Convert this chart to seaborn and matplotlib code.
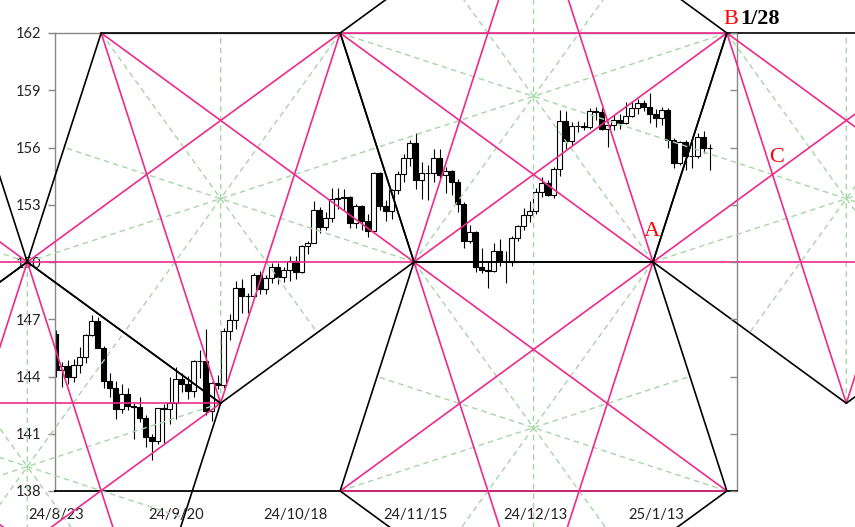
import numpy as np
import matplotlib
matplotlib.use("Agg")
import matplotlib.pyplot as plt
import seaborn as sns

# ローソク足データ (USD/JPY 日足, 2024/8/23 - 2025/1/24)
opens = [146.25, 144.35, 144.55, 143.95, 144.60, 145.00, 146.15, 146.90, 145.50, 143.75,
         143.40, 142.30, 143.10, 142.45, 142.40, 141.85, 140.85, 140.60, 142.35, 142.30,
         142.60, 143.85, 143.60, 143.25, 144.80, 144.80, 142.20, 143.65, 143.55, 146.40,
         146.95, 148.65, 148.20, 148.20, 149.30, 148.60, 149.15, 149.75, 149.20, 149.60,
         150.05, 149.50, 150.85, 151.00, 152.70, 151.85, 152.30, 153.30, 153.35, 153.40,
         152.05, 152.95, 152.15, 151.60, 154.65, 152.95, 152.65, 153.75, 154.60, 155.45,
         156.25, 154.30, 154.65, 154.65, 155.45, 154.55, 154.75, 154.20, 153.05, 151.10,
         151.55, 149.75, 149.60, 149.55, 150.60, 150.05, 150.00, 151.25, 151.90, 152.45,
         152.65, 153.65, 154.15, 153.50, 154.85, 157.40, 156.35, 157.15, 157.15, 157.10,
         157.90, 157.85, 156.95, 157.20, 157.45, 157.30, 157.65, 158.05, 158.35, 158.10,
         157.75, 157.55, 157.95, 156.40, 155.20, 156.30, 155.55, 155.55, 156.55, 156.00]
highs = [146.45, 144.75, 144.85, 144.90, 145.55, 146.25, 147.20, 147.10, 145.60, 144.20,
         143.75, 143.60, 143.40, 142.60, 142.90, 142.00, 141.00, 142.30, 142.55, 143.95,
         144.50, 144.20, 144.05, 144.85, 145.40, 146.50, 143.70, 144.10, 146.55, 147.25,
         149.00, 149.10, 148.35, 149.40, 149.55, 149.30, 149.95, 149.95, 149.75, 150.30,
         150.30, 150.90, 151.10, 153.20, 152.90, 152.60, 153.90, 153.90, 153.85, 153.45,
         153.05, 153.00, 152.50, 154.70, 154.70, 153.25, 153.85, 154.75, 155.65, 156.40,
         156.75, 155.25, 155.10, 155.90, 155.90, 155.00, 154.80, 154.35, 153.15, 151.95,
         151.60, 150.75, 150.00, 151.00, 151.20, 150.60, 151.35, 151.95, 152.85, 153.20,
         153.90, 154.45, 154.30, 155.00, 157.95, 157.90, 157.35, 157.40, 157.35, 158.05,
         158.10, 158.05, 157.40, 157.70, 157.75, 158.40, 158.40, 158.55, 158.50, 158.85,
         158.00, 158.10, 158.05, 156.50, 156.35, 156.40, 156.30, 156.75, 156.85, 156.20]
lows = [144.00, 143.45, 143.60, 143.70, 144.20, 144.70, 146.10, 145.50, 143.40, 142.90,
        141.75, 142.10, 142.25, 140.70, 141.60, 140.30, 139.60, 140.45, 140.50, 141.50,
        141.75, 143.20, 142.80, 142.95, 143.90, 142.00, 141.65, 143.35, 143.40, 145.90,
        146.50, 147.35, 147.35, 148.10, 148.30, 148.30, 148.90, 148.85, 148.95, 149.00,
        149.10, 149.40, 150.40, 151.00, 151.50, 151.70, 152.10, 152.80, 152.75, 151.80,
        151.80, 151.70, 151.30, 151.60, 152.70, 152.15, 152.25, 153.55, 154.20, 155.05,
        153.85, 153.30, 153.25, 154.20, 154.30, 153.60, 153.50, 152.60, 150.75, 151.00,
        149.45, 149.40, 148.65, 149.50, 149.80, 148.90, 149.80, 151.10, 151.70, 152.10,
        152.50, 153.40, 153.45, 153.35, 154.50, 155.90, 156.15, 156.80, 156.90, 156.95,
        157.45, 156.90, 156.05, 156.90, 156.95, 157.25, 157.60, 157.75, 157.90, 157.30,
        157.10, 157.20, 155.95, 154.95, 155.10, 154.80, 154.95, 155.45, 155.70, 154.80]
closes = [144.35, 144.55, 143.95, 144.60, 145.00, 146.15, 146.90, 145.50, 143.75, 143.40,
          142.30, 143.10, 142.45, 142.40, 141.85, 140.85, 140.60, 142.35, 142.30, 142.60,
          143.85, 143.60, 143.25, 144.80, 144.80, 142.20, 143.65, 143.55, 146.40, 146.95,
          148.65, 148.20, 148.20, 149.30, 148.60, 149.15, 149.75, 149.20, 149.60, 150.05,
          149.50, 150.85, 151.00, 152.70, 151.85, 152.30, 153.30, 153.35, 153.40, 152.05,
          152.95, 152.15, 151.60, 154.65, 152.95, 152.65, 153.75, 154.60, 155.45, 156.25,
          154.30, 154.65, 154.65, 155.45, 154.55, 154.75, 154.20, 153.05, 151.10, 151.55,
          149.75, 149.60, 149.55, 150.60, 150.05, 150.00, 151.25, 151.90, 152.45, 152.65,
          153.65, 154.15, 153.50, 154.85, 157.40, 156.35, 157.15, 157.15, 157.10, 157.90,
          157.85, 156.95, 157.20, 157.45, 157.30, 157.65, 158.05, 158.35, 158.10, 157.75,
          157.55, 157.95, 156.40, 155.20, 156.30, 155.55, 155.55, 156.55, 156.00, 156.00]

# 目盛り
x_tick_pos = [0, 20, 40, 60, 80, 100]
x_tick_labels = ['24/8/23', '24/9/20', '24/10/18', '24/11/15', '24/12/13', '25/1/13']
y_ticks = [138, 141, 144, 147, 150, 153, 156, 159, 162]

# 五角形の頂点 (x=営業日, y=価格)
pent_L = [(-17.06, 162), (-4.75, 150), (-36.97, 142.6), (-69.20, 150), (-56.89, 162)]
pent_0 = [(-4.75, 150), (27.47, 142.6), (15.16, 130.6), (-24.67, 130.6), (-36.97, 142.6)]
pent_1 = [(7.56, 162), (47.39, 162), (59.70, 150), (27.47, 142.6), (-4.75, 150)]
pent_2 = [(59.70, 150), (99.53, 150), (111.84, 162), (79.62, 169.4), (47.39, 162)]
pent_3 = [(59.70, 150), (99.53, 150), (111.84, 138), (79.62, 130.6), (47.39, 138)]
pent_5 = [(111.84, 162), (151.67, 162), (163.98, 150), (131.75, 142.6), (99.53, 150)]
pentagons = [pent_L, pent_0, pent_1, pent_2, pent_3, pent_5]

pink = '#EE2A8B'
green = '#A6D6A6'

sns.set_theme(style='white')
plt.rcParams['font.family'] = ['Lato', 'DejaVu Sans']

fig = plt.figure(figsize=(8.55, 5.27), dpi=100)
ax = fig.add_axes([55 / 855, 36 / 527, 682 / 855, 458 / 527])

# ローソク足
x = np.arange(len(opens))
o, h, l, c = map(np.array, (opens, highs, lows, closes))
up = c >= o
ax.vlines(x, l, h, color='black', linewidth=0.8, zorder=2)
ax.bar(x[up], (c - o)[up], bottom=o[up], width=0.8, color='white',
       edgecolor='black', linewidth=0.8, zorder=2.5)
ax.bar(x[~up], (o - c)[~up], bottom=c[~up], width=0.8, color='black',
       edgecolor='black', linewidth=0.8, zorder=2.5)

# 五角形: 中線(緑点線), 対角線(ピンク), 辺(黒)
for p in pentagons:
    v = np.array(p)
    for k in range(5):
        m = (v[(k + 2) % 5] + v[(k + 3) % 5]) / 2
        ax.plot([v[k, 0], m[0]], [v[k, 1], m[1]], color=green, lw=1.0,
                dashes=(4, 3), clip_on=False, zorder=3)
for p in pentagons:
    v = np.array(p)
    for k in range(5):
        w = v[(k + 2) % 5]
        ax.plot([v[k, 0], w[0]], [v[k, 1], w[1]], color=pink, lw=1.2,
                clip_on=False, zorder=4, solid_capstyle='round')
for p in pentagons:
    v = np.array(p)
    for k in range(5):
        w = v[(k + 1) % 5]
        ax.plot([v[k, 0], w[0]], [v[k, 1], w[1]], color='black', lw=1.2,
                clip_on=False, zorder=5, solid_capstyle='round')

# ラベル
serif = ['Liberation Serif', 'DejaVu Serif']
ax.text(99.28, 151.6, 'A', color='red', fontsize=16, family=serif,
        ha='center', va='center', zorder=6)
ax.text(112.53, 162.2, 'B', color='red', fontsize=16, family=serif,
        ha='center', va='bottom', zorder=6)
ax.text(114.0, 162.2, '1/28', color='black', fontsize=16, family=serif,
        fontweight='bold', ha='left', va='bottom', zorder=6)
ax.text(120.1, 155.5, 'C', color='red', fontsize=16, family=serif,
        ha='center', va='center', zorder=6)

ax.set_xlim(-0.133, 113.53)
ax.set_ylim(138, 162)
ax.set_xticks(x_tick_pos)
ax.set_xticklabels(x_tick_labels)
ax.set_yticks(y_ticks)
ax.set_yticklabels([str(t) for t in y_ticks])
ax.tick_params(axis='y', direction='out', length=5, width=1, color='#888888',
               labelsize=10.5, labelcolor='#222222', pad=5)
ax.tick_params(axis='x', direction='in', length=4, width=1, color='#888888',
               labelsize=10.5, labelcolor='#222222', pad=12)
ax.grid(False)

for side in ['left', 'top', 'right']:
    ax.spines[side].set_color('#888888')
    ax.spines[side].set_linewidth(1.0)
ax.spines['bottom'].set_color('black')
ax.spines['bottom'].set_linewidth(1.3)

ax2 = ax.twinx()
ax2.set_ylim(138, 162)
ax2.set_yticks(y_ticks)
ax2.tick_params(axis='y', direction='in', length=5, width=1, color='#888888',
                labelright=False)
for s in ax2.spines.values():
    s.set_visible(False)
ax2.grid(False)

fig.savefig('out.png', dpi=100)
